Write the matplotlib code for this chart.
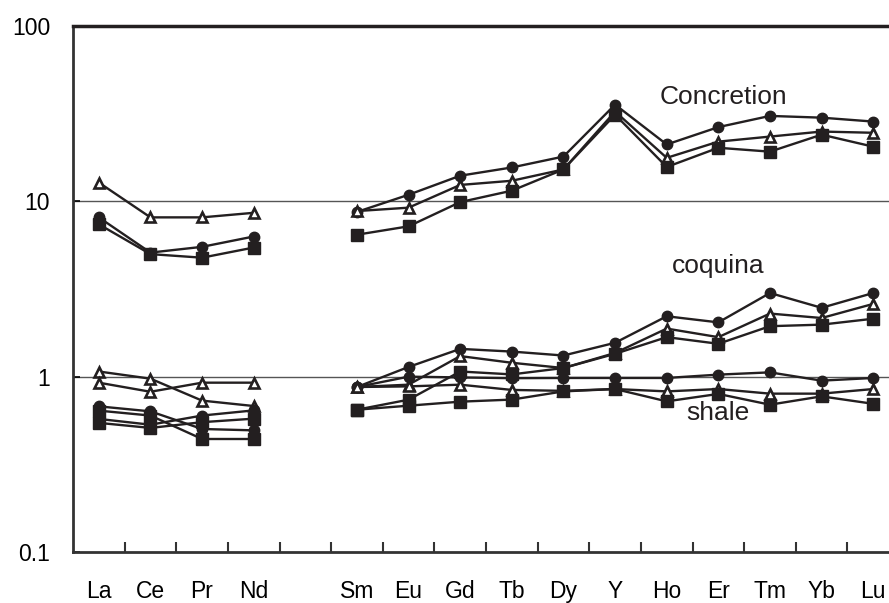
import numpy as np
import matplotlib.pyplot as plt

plt.rcParams['font.family'] = ['Liberation Sans', 'DejaVu Sans']

lree = ['La', 'Ce', 'Pr', 'Nd']
hree = ['Sm', 'Eu', 'Gd', 'Tb', 'Dy', 'Y', 'Ho', 'Er', 'Tm', 'Yb', 'Lu']

# concretion
conc_circle_l = [8.1, 5.1, 5.5, 6.3]
conc_circle_h = [8.7, 10.9, 14.0, 15.6, 18.0, 35.6, 21.1, 26.5, 30.7, 30.0, 28.5]
conc_tri_l = [12.8, 8.1, 8.1, 8.6]
conc_tri_h = [8.8, 9.2, 12.4, 13.1, 15.2, 32.5, 17.7, 21.9, 23.4, 25.0, 24.6]
conc_sq_l = [7.4, 5.0, 4.77, 5.45]
conc_sq_h = [6.45, 7.2, 9.9, 11.5, 15.2, 31.2, 15.7, 20.2, 19.2, 24.0, 20.5]

# coquina
coq_circle_l = [0.677, 0.634, 0.503, 0.494]
coq_circle_h = [0.873, 1.136, 1.44, 1.39, 1.32, 1.56, 2.21, 2.04, 3.0, 2.47, 3.0]
coq_tri_l = [1.07, 0.974, 0.73, 0.68]
coq_tri_h = [0.873, 0.90, 1.31, 1.20, 1.12, 1.365, 1.88, 1.68, 2.29, 2.16, 2.6]
coq_sq_l = [0.64, 0.60, 0.441, 0.441]
coq_sq_h = [0.648, 0.739, 1.07, 1.03, 1.12, 1.35, 1.68, 1.54, 1.94, 1.98, 2.14]

# shale
sh_circle_l = [0.574, 0.532, 0.60, 0.642]
sh_circle_h = [0.873, 1.0, 0.99, 0.98, 0.983, 0.983, 0.983, 1.027, 1.058, 0.949, 0.983]
sh_tri_l = [0.924, 0.82, 0.924, 0.924]
sh_tri_h = [0.873, 0.88, 0.90, 0.84, 0.83, 0.85, 0.824, 0.85, 0.80, 0.80, 0.85]
sh_sq_l = [0.545, 0.51, 0.55, 0.576]
sh_sq_h = [0.648, 0.683, 0.72, 0.74, 0.824, 0.85, 0.723, 0.797, 0.692, 0.772, 0.70]

x_l = np.arange(len(lree))
x_h = np.arange(len(hree)) + len(lree) + 1

ink = '#231f20'
styles = {
    'o': dict(marker='o', markersize=7.5, markerfacecolor=ink, markeredgecolor=ink),
    '^': dict(marker='^', markersize=7.5, markerfacecolor='white', markeredgecolor=ink,
              markeredgewidth=1.9),
    's': dict(marker='s', markersize=8, markerfacecolor=ink, markeredgecolor=ink),
}

series = [
    (conc_circle_l, conc_circle_h, 'o'), (conc_tri_l, conc_tri_h, '^'), (conc_sq_l, conc_sq_h, 's'),
    (coq_circle_l, coq_circle_h, 'o'), (coq_tri_l, coq_tri_h, '^'), (coq_sq_l, coq_sq_h, 's'),
    (sh_circle_l, sh_circle_h, 'o'), (sh_tri_l, sh_tri_h, '^'), (sh_sq_l, sh_sq_h, 's'),
]

fig = plt.figure(figsize=(8.89, 6.03), dpi=100)
ax = fig.add_axes([0.0821, 0.0846, 0.9292, 0.8723])

ax.axhline(1, color='#555555', lw=1, zorder=1)
ax.axhline(10, color='#555555', lw=1, zorder=1)

for lv, hv, m in series:
    ax.plot(x_l, lv, color=ink, lw=1.7, zorder=3, **styles[m])
    ax.plot(x_h, hv, color=ink, lw=1.7, zorder=3, **styles[m])

ax.set_yscale('log')
ax.set_ylim(0.1, 100)
ax.set_xlim(-0.5, 15.5)
ax.set_yticks([0.1, 1, 10, 100])
ax.set_yticklabels(['0.1', '1', '10', '100'])
ax.yaxis.set_minor_locator(plt.NullLocator())
ax.tick_params(axis='y', which='major', direction='in', length=5, width=1.2,
               labelsize=16.5, pad=16.5)

ax.set_xticks(list(x_l) + list(x_h))
ax.set_xticklabels(lree + hree)
ax.tick_params(axis='x', which='major', length=0, labelsize=16.5, pad=20)
ax.set_xticks(np.arange(0.5, 15, 1), minor=True)
ax.tick_params(axis='x', which='minor', direction='in', length=7, width=1.5, color='#333333')

for side in ['left', 'bottom']:
    ax.spines[side].set_linewidth(2)
    ax.spines[side].set_color('#333333')
ax.spines['top'].set_linewidth(2.5)
ax.spines['top'].set_color(ink)
ax.spines['right'].set_visible(False)

ax.text(12.09, 39.6, 'Concretion', fontsize=19, ha='center', va='center', color=ink)
ax.text(12.0, 4.26, 'coquina', fontsize=19, ha='center', va='center', color=ink)
ax.text(12.0, 0.623, 'shale', fontsize=19, ha='center', va='center', color=ink)

fig.savefig('out.png', dpi=100)
